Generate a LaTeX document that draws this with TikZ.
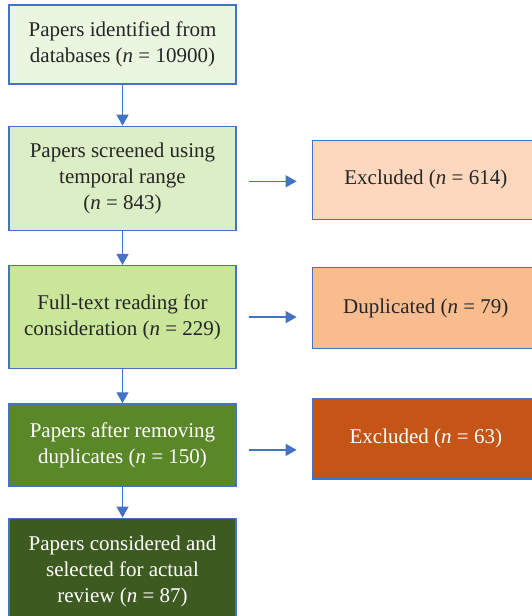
\documentclass[tikz,border=0pt]{standalone}
\usepackage{fontspec}
\setmainfont{Liberation Serif}
\usetikzlibrary{positioning,arrows.meta}

\definecolor{edgeblue}{HTML}{4472C4}
\definecolor{greenA}{HTML}{EBF6E0}
\definecolor{greenB}{HTML}{DCEEC6}
\definecolor{greenC}{HTML}{C9E69B}
\definecolor{greenD}{HTML}{5A8829}
\definecolor{greenE}{HTML}{3D5A20}
\definecolor{orangeA}{HTML}{FDD8BE}
\definecolor{orangeB}{HTML}{F9BC8F}
\definecolor{orangeC}{HTML}{C55517}
\definecolor{darktext}{HTML}{262626}

\begin{document}
\begin{tikzpicture}[>={Triangle[length=5.5pt,width=6pt]},auto,node distance=17pt,
    main node/.style={rectangle,draw=edgeblue,line width=0.65pt,minimum width=113.5pt,
      align=center,inner sep=0pt,text=darktext,font=\fontsize{10.5}{13}\selectfont},
    light node/.style={main node,text=white}]
    \useasboundingbox (0,0) rectangle (265.5pt,-308pt);
    \node[main node,fill=greenA,minimum height=39.5pt] (1) at (61.25pt,-22.25pt)
      {Papers identified from\\databases (\textit{n} = 10900)};
    \node[main node,fill=greenB,minimum height=52pt] (2) [below=20.5pt of 1]
      {Papers screened using\\temporal range\\(\textit{n} = 843)};
    \node[main node,fill=greenC,minimum height=51.5pt] (3) [below=of 2]
      {Full-text reading for\\consideration (\textit{n} = 229)};
    \node[light node,fill=greenD,minimum height=41pt] (4) [below=of 3]
      {Papers after removing\\duplicates (\textit{n} = 150)};
    \node[light node,fill=greenE,minimum height=53.5pt] (5) [below=15.5pt of 4]
      {Papers considered and\\selected for actual\\review (\textit{n} = 87)};
    \node[main node,fill=orangeA,minimum height=39.5pt] (6) [right=37.5pt of 2,yshift=-0.75pt]
      {Excluded (\textit{n} = 614)};
    \node[main node,fill=orangeB,minimum height=40.5pt] (7) [right=37.5pt of 3,yshift=4.5pt]
      {Duplicated (\textit{n} = 79)};
    \node[light node,fill=orangeC,minimum height=40pt] (8) [right=37.5pt of 4,yshift=3pt]
      {Excluded (\textit{n} = 63)};
    \path[every edge/.style={draw=edgeblue,fill=edgeblue,line width=0.65pt,->}]
    (1) edge (2)
    (2) edge (3)
    (3) edge (4)
    (4) edge (5)
    ([yshift=-1.5pt]2.east) edge [shorten <=6pt,shorten >=7.5pt] ([yshift=-1.5pt]2.east -| 6.west)
    (3.east) edge [shorten <=6pt,shorten >=7.5pt] (3.east -| 7.west)
    ([yshift=-2.5pt]4.east) edge [shorten <=6pt,shorten >=7.5pt] ([yshift=-2.5pt]4.east -| 8.west);
\end{tikzpicture}
\end{document}
